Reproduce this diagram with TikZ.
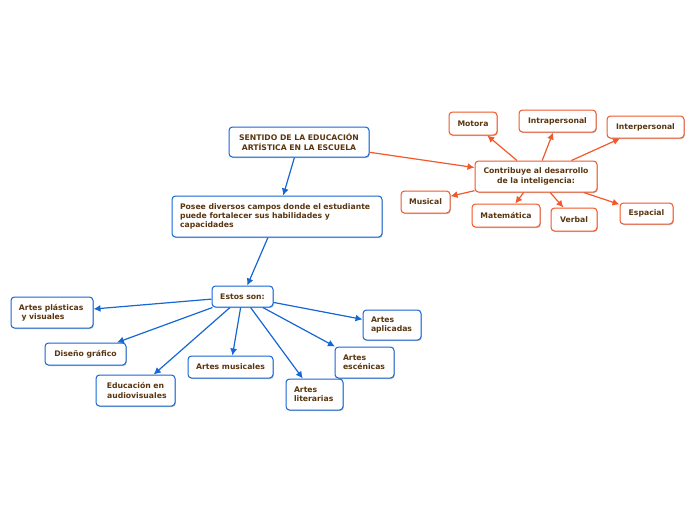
\documentclass[tikz,border=0pt]{standalone}
\usepackage{fontspec}
\setmainfont{DejaVu Sans}
\usetikzlibrary{arrows.meta,shadows}
\definecolor{txt}{HTML}{5A3610}
\definecolor{bl}{HTML}{1666D6}
\definecolor{orn}{HTML}{F2582B}
\tikzset{
  box/.style={rectangle, rounded corners=3.5pt, draw, fill=white, line width=1pt,
    text=txt, font=\fontsize{7.7}{9.2}\selectfont\bfseries, inner xsep=8pt, inner ysep=2pt,
    drop shadow={shadow xshift=0.8pt, shadow yshift=-1pt, opacity=0.25, fill=black}},
  bbox/.style={box, draw=bl},
  obox/.style={box, draw=orn},
  barr/.style={draw=bl, line width=1.2pt, -{Latex[length=7pt,width=7pt]}},
  oarr/.style={draw=orn, line width=1.2pt, -{Latex[length=7pt,width=7pt]}},
}
\begin{document}
\begin{tikzpicture}[x=1pt,y=-1pt]
\useasboundingbox (0,0) rectangle (696,520);
% blue nodes
\node[bbox, minimum width=140, minimum height=30, align=center] (main) at (299,142) {SENTIDO DE LA EDUCACIÓN\\ARTÍSTICA EN LA ESCUELA};
\node[bbox, minimum height=41, text width=194, align=left] (posee) at (277,216.5) {Posee diversos campos donde el estudiante\\puede fortalecer sus habilidades y\\capacidades};
\node[bbox, minimum width=61, minimum height=21, align=center] (estos) at (242.5,296.5) {Estos son:};
\node[bbox, minimum height=31, text width=66, align=left] (plast) at (52,312.5) {Artes plásticas\\\ y visuales};
\node[bbox, minimum width=81, minimum height=22, align=center] (diseno) at (85.5,354) {Diseño gráfico};
\node[bbox, minimum width=79, minimum height=31, align=center] (educ) at (135.5,390.5) {Educación en\\\ audiovisuales};
\node[bbox, minimum width=85, minimum height=22, align=center] (music) at (230.5,367) {Artes musicales};
\node[bbox, minimum height=31, text width=41, align=left] (liter) at (314.5,394.5) {Artes\\literarias};
\node[bbox, minimum height=31, text width=43, align=left] (escen) at (364.5,362.5) {Artes\\escénicas};
\node[bbox, minimum height=30, text width=42, align=left] (aplic) at (392,325) {Artes\\aplicadas};
% orange nodes
\node[obox, minimum width=122, minimum height=31, align=center] (contrib) at (536,176.5) {Contribuye al desarrollo\\de la inteligencia:};
\node[obox, minimum width=48, minimum height=23] (motora) at (473,123.5) {Motora};
\node[obox, minimum width=77, minimum height=22] (intra) at (557.5,121) {Intrapersonal};
\node[obox, minimum width=77, minimum height=22] (inter) at (645.5,127) {Interpersonal};
\node[obox, minimum width=49, minimum height=22] (musical) at (425.5,202) {Musical};
\node[obox, minimum width=68, minimum height=23] (mate) at (506,215.5) {Matemática};
\node[obox, minimum width=46, minimum height=23] (verbal) at (574,219.5) {Verbal};
\node[obox, minimum width=53, minimum height=21] (espacial) at (646.5,213.5) {Espacial};
% blue connectors
\draw[barr] (main) -- (posee);
\draw[barr] (posee) -- (estos);
\foreach \t in {plast,diseno,educ,music,liter,escen,aplic} \draw[barr] (estos) -- (\t);
% orange connectors
\draw[oarr] (main) -- (contrib);
\foreach \t in {motora,intra,inter,musical,mate,verbal,espacial} \draw[oarr] (contrib) -- (\t);
\end{tikzpicture}
\end{document}
